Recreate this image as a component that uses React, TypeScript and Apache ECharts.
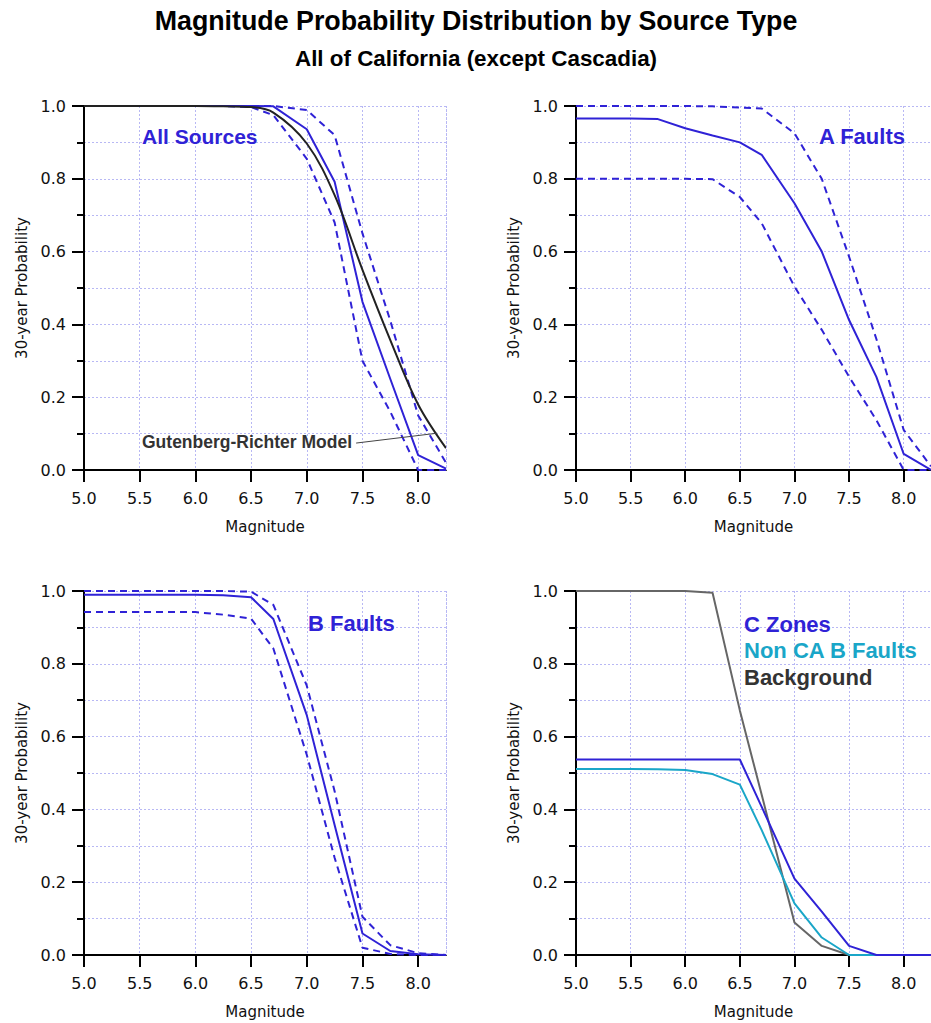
import React, { useEffect, useRef } from "react";
import * as echarts from "echarts";

// Magnitude thresholds (x values)
const MAGS = [5.0, 5.25, 5.5, 5.75, 6.0, 6.25, 6.5, 6.7, 7.0, 7.25, 7.5, 7.75, 8.0, 8.25];
const X_MAX = 8.25;

// All Sources
const ALL_MEAN = [1, 1, 1, 1, 1, 1, 1, 0.999, 0.936, 0.792, 0.462, 0.25, 0.041, 0.004];
const ALL_HIGH = [1, 1, 1, 1, 1, 1, 1, 1, 0.989, 0.92, 0.65, 0.41, 0.15, 0.02];
const ALL_LOW = [1, 1, 1, 1, 1, 1, 0.997, 0.975, 0.855, 0.68, 0.3, 0.16, 0.0, 0.0];
const GUTENBERG_RICHTER = [1, 1, 1, 1, 1, 0.999, 0.997, 0.982, 0.897, 0.755, 0.55, 0.357, 0.18, 0.06];
const GR_LEADER = [[7.443, 0.074], [8.168, 0.101]];

// A Faults
const A_MEAN = [0.966, 0.966, 0.966, 0.964, 0.939, 0.919, 0.9, 0.866, 0.733, 0.6, 0.412, 0.256, 0.044, 0.0];
const A_HIGH = [1, 1, 1, 1, 1, 0.999, 0.996, 0.993, 0.925, 0.8, 0.586, 0.36, 0.11, 0.01];
const A_LOW = [0.8, 0.8, 0.8, 0.8, 0.8, 0.799, 0.75, 0.678, 0.504, 0.385, 0.256, 0.137, 0.0, 0.0];

// B Faults
const B_MEAN = [0.99, 0.99, 0.99, 0.99, 0.99, 0.988, 0.983, 0.923, 0.659, 0.357, 0.059, 0.011, 0.002, 0.0];
const B_HIGH = [1, 1, 1, 1, 1, 1, 0.998, 0.962, 0.74, 0.45, 0.105, 0.027, 0.005, 0.0];
const B_LOW = [0.942, 0.942, 0.942, 0.942, 0.942, 0.935, 0.924, 0.842, 0.55, 0.267, 0.02, 0.003, 0.0, 0.0];

// C Zones / Non CA B Faults / Background
const C_ZONES = [0.537, 0.537, 0.537, 0.537, 0.537, 0.537, 0.537, 0.407, 0.21, 0.119, 0.025, 0.0, 0.0, 0.0];
const NON_CA_B = [0.511, 0.511, 0.511, 0.51, 0.508, 0.497, 0.468, 0.343, 0.142, 0.048, 0.0, 0.0, 0.0, 0.0];
const BACKGROUND = [1, 1, 1, 1, 1, 0.995, 0.672, 0.44, 0.089, 0.025, 0.0, 0.0, 0.0, 0.0];

const BLUE = "#2f22d6";
const CYAN = "#1aa6c8";
const GRAY = "#666666";
const BLACK = "#222222";
const GRID_COLOR = "#b8b8f4";

const GRIDS = [
  { left: 84, top: 106, width: 362, height: 364 },
  { left: 576, top: 106, width: 362, height: 364 },
  { left: 84, top: 591, width: 362, height: 364 },
  { left: 576, top: 591, width: 362, height: 364 },
];

const pairs = (ys: number[]) => MAGS.map((m, i) => [m, ys[i]]);

function line(idx: number, ys: number[], color: string, dashed: boolean, extra: any = {}) {
  return {
    type: "line",
    xAxisIndex: idx,
    yAxisIndex: idx,
    data: pairs(ys),
    symbol: "none",
    showSymbol: false,
    silent: true,
    lineStyle: { color, width: 2, type: dashed ? [7, 5] : "solid" },
    ...extra,
  };
}

const TEXT_FONT = "DejaVu Sans";
const BOLD = '"Liberation Sans", Arial, Helvetica, sans-serif';

function buildOption() {
  const xAxes = GRIDS.map((_, i) => ({
    gridIndex: i,
    type: "value",
    min: 5,
    max: X_MAX,
    interval: 0.5,
    axisLine: { show: true, onZero: false, lineStyle: { color: "#000", width: 2 } },
    axisTick: { show: true, length: 12, lineStyle: { color: "#000", width: 2 } },
    axisLabel: {
      margin: 20,
      fontFamily: TEXT_FONT,
      fontSize: 16,
      color: "#111",
      showMaxLabel: false,
      formatter: (v: number) => v.toFixed(1),
    },
    splitLine: { show: true, lineStyle: { color: GRID_COLOR, type: [2, 2], width: 1 } },
    name: "Magnitude",
    nameLocation: "middle",
    nameGap: 49,
    nameTextStyle: { fontFamily: TEXT_FONT, fontSize: 15, color: "#111" },
  }));
  const yAxes = GRIDS.map((_, i) => ({
    gridIndex: i,
    type: "value",
    min: 0,
    max: 1,
    interval: 0.2,
    axisLine: { show: true, onZero: false, lineStyle: { color: "#000", width: 2 } },
    axisTick: { show: true, length: 12, lineStyle: { color: "#000", width: 2 } },
    minorTick: { show: true, splitNumber: 2, length: 7, lineStyle: { color: "#000", width: 2 } },
    splitLine: { show: true, lineStyle: { color: GRID_COLOR, type: [2, 2], width: 1 } },
    minorSplitLine: { show: true, lineStyle: { color: GRID_COLOR, type: [2, 2], width: 1 } },
    axisLabel: {
      margin: 18,
      fontFamily: TEXT_FONT,
      fontSize: 16,
      color: "#111",
      formatter: (v: number) => v.toFixed(1),
    },
    name: "30-year Probability",
    nameLocation: "middle",
    nameGap: 55,
    nameTextStyle: { fontFamily: TEXT_FONT, fontSize: 15, color: "#111" },
  }));

  const border = {
    silent: true,
    symbol: ["none", "none"],
    label: { show: false },
    emphasis: { disabled: true },
    lineStyle: { color: GRID_COLOR, type: "dotted", width: 1 },
    data: [{ xAxis: X_MAX }],
  };

  const series: any[] = [
    line(0, ALL_HIGH, BLUE, true, { markLine: border }),
    line(0, ALL_LOW, BLUE, true),
    line(0, ALL_MEAN, BLUE, false),
    line(0, GUTENBERG_RICHTER, BLACK, false, { smooth: 0.35 }),
    {
      type: "line",
      xAxisIndex: 0,
      yAxisIndex: 0,
      data: GR_LEADER,
      symbol: "none",
      silent: true,
      lineStyle: { color: "#444", width: 1 },
    },
    line(1, A_HIGH, BLUE, true, { markLine: border }),
    line(1, A_LOW, BLUE, true),
    line(1, A_MEAN, BLUE, false),
    line(2, B_HIGH, BLUE, true, { markLine: border }),
    line(2, B_LOW, BLUE, true),
    line(2, B_MEAN, BLUE, false),
    line(3, BACKGROUND, GRAY, false, { markLine: border }),
    line(3, NON_CA_B, CYAN, false),
    line(3, C_ZONES, BLUE, false),
  ];

  const label = (text: string, x: number, y: number, fill: string, size: number, align = "left") => ({
    type: "text",
    x,
    y,
    silent: true,
    z: 100,
    style: {
      text,
      fill,
      font: `bold ${size}px ${BOLD}`,
      align,
      verticalAlign: "middle",
      textAlign: align,
      textVerticalAlign: "middle",
    },
  });

  return {
    animation: false,
    backgroundColor: "#ffffff",
    grid: GRIDS.map((g) => ({ ...g, containLabel: false })),
    xAxis: xAxes,
    yAxis: yAxes,
    series,
    graphic: [
      label("Magnitude Probability Distribution by Source Type", 476, 20.5, "#000", 26.8, "center"),
      label("All of California (except Cascadia)", 476, 58, "#000", 22.4, "center"),
      label("All Sources", 142, 136, BLUE, 21),
      label("Gutenberg-Richter Model", 142, 441.5, "#333", 17.5),
      label("A Faults", 819, 136.5, BLUE, 22),
      label("B Faults", 308, 623, BLUE, 22),
      label("C Zones", 744, 624, BLUE, 22),
      label("Non CA B Faults", 744, 650.5, CYAN, 22),
      label("Background", 744, 677, "#333", 22),
    ],
  };
}

export default function App() {
  const ref = useRef<HTMLDivElement>(null);
  useEffect(() => {
    if (!ref.current) return;
    const chart = echarts.init(ref.current, undefined, { renderer: "svg" });
    chart.setOption(buildOption() as any);
    return () => chart.dispose();
  }, []);
  return (
    <div
      ref={ref}
      style={{ position: "fixed", left: 0, top: 0, width: 931, height: 1023, background: "#fff" }}
    />
  );
}
